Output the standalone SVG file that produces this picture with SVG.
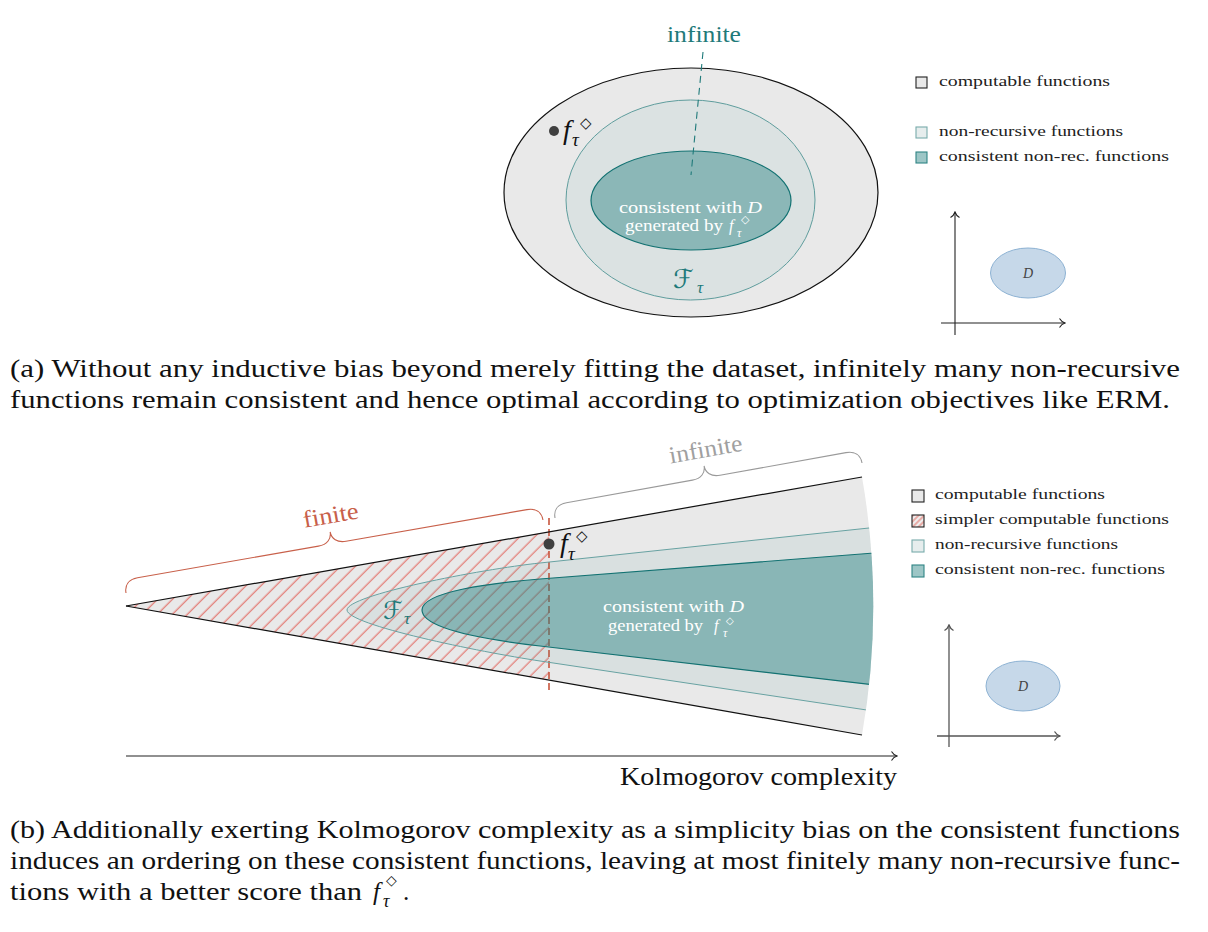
<svg xmlns="http://www.w3.org/2000/svg" width="1208" height="932" viewBox="0 0 1208 932">
<style>
.rm{font-family:'Liberation Serif','DejaVu Serif',serif;}
.it{font-family:'Liberation Serif','DejaVu Serif',serif;font-style:italic;}
.sym{font-family:'DejaVu Sans',sans-serif;}
.cal{font-family:'DejaVu Serif','DejaVu Sans',serif;font-style:italic;}
.cap{font-size:25px;fill:#111;}
.leg{font-size:15px;fill:#222;}
.wt{font-size:16px;fill:#ffffff;}
.ax{fill:none;stroke:#222;stroke-width:1.1;}
.ax2{fill:none;stroke:#555;stroke-width:1.3;}
.dset{fill:#c6d8e9;stroke:#8db2d3;stroke-width:1;}
.dlab{font-size:14px;fill:#444;}
.blk{fill:none;stroke:#111;stroke-width:1.2;}
.lt{fill:none;stroke:#68a2a2;stroke-width:1;}
.dk{fill:none;stroke:#137272;stroke-width:1.2;}
</style>
<defs>
<marker id="arrK" viewBox="-7 -6 8 12" markerWidth="8" markerHeight="12" refX="0" refY="0" orient="auto" markerUnits="userSpaceOnUse">
<path d="M-5.5,-4.5 C-4,-2 -1.5,-0.5 0,0 C-1.5,0.5 -4,2 -5.5,4.5" fill="none" stroke="#222" stroke-width="1.1"/>
</marker>
<marker id="arrG" viewBox="-7 -6 8 12" markerWidth="8" markerHeight="12" refX="0" refY="0" orient="auto" markerUnits="userSpaceOnUse">
<path d="M-5.5,-4.5 C-4,-2 -1.5,-0.5 0,0 C-1.5,0.5 -4,2 -5.5,4.5" fill="none" stroke="#555" stroke-width="1.3"/>
</marker>
<pattern id="hatch" patternUnits="userSpaceOnUse" width="20" height="10.6" patternTransform="rotate(-45)">
<line x1="-1" y1="5" x2="21" y2="5" stroke="#e0473c" stroke-width="0.85"/>
</pattern>
<pattern id="hatchS" patternUnits="userSpaceOnUse" width="10" height="4" patternTransform="rotate(-45)">
<line x1="-1" y1="2" x2="11" y2="2" stroke="#e0473c" stroke-width="0.8"/>
</pattern>
<clipPath id="wedgeClip"><path d="M126,606 L862,477 A747,747 0 0 1 862,735 Z"/></clipPath>
<clipPath id="hatchClip"><polygon points="126,606 549,531.85 549,680.15"/></clipPath>
</defs>

<g id="top-computable">
<ellipse cx="691" cy="192.5" rx="187" ry="124.5" fill="#e9e9e9" stroke="#111" stroke-width="1.2"/>
<circle cx="554" cy="131" r="5" fill="#404040"/>
<text class="it" x="563" y="139" font-size="28" fill="#111">f</text>
<text class="sym" x="580" y="128" font-size="15" fill="#111">◇</text>
<text class="it" x="572" y="146" font-size="19" fill="#111">τ</text>
</g>
<g id="top-nonrecursive">
<ellipse cx="690.5" cy="200" rx="124.5" ry="100" fill="#dbe2e2" stroke="#5f9d9d" stroke-width="1"/>
<text class="cal" x="673" y="288" font-size="26" fill="#1f7a7a">ℱ</text>
<text class="it" x="697" y="293" font-size="17" fill="#1f7a7a">τ</text>
</g>
<g id="top-consistent">
<ellipse cx="691" cy="200.5" rx="100" ry="49.5" fill="#8bb7b7" stroke="#137272" stroke-width="1.2"/>
<text class="rm wt" x="619" y="213" textLength="143" lengthAdjust="spacingAndGlyphs">consistent with <tspan font-style="italic">D</tspan></text>
<text class="rm wt" x="625" y="231" textLength="98" lengthAdjust="spacingAndGlyphs">generated by</text>
<text class="it wt" x="729" y="231">f</text>
<text class="sym" x="741" y="223" font-size="11" fill="#fff">◇</text>
<text class="it" x="737" y="237" font-size="12" fill="#fff">τ</text>
</g>
<g id="top-infinite-label">
<line x1="703" y1="52" x2="691" y2="175" stroke="#1f7a7a" stroke-width="1.1" stroke-dasharray="7 5"/>
<text class="rm" x="704" y="42" font-size="24" fill="#1f7a7a" text-anchor="middle" textLength="74" lengthAdjust="spacingAndGlyphs">infinite</text>
</g>

<g id="top-legend">
<rect x="916" y="77" width="11" height="11" fill="#e9e9e9" stroke="#222" stroke-width="1.1"/>
<text class="rm leg" x="939" y="86" textLength="171" lengthAdjust="spacingAndGlyphs">computable functions</text>
<rect x="916" y="127" width="11" height="11" fill="#e6eded" stroke="#78abab" stroke-width="1.1"/>
<text class="rm leg" x="939" y="136" textLength="184" lengthAdjust="spacingAndGlyphs">non-recursive functions</text>
<rect x="916" y="152" width="11" height="11" fill="#9dc6c6" stroke="#2f8585" stroke-width="1.1"/>
<text class="rm leg" x="939" y="161" textLength="230" lengthAdjust="spacingAndGlyphs">consistent non-rec. functions</text>
</g>

<g id="top-dataset">
<line class="ax" x1="955" y1="335" x2="955" y2="212" marker-end="url(#arrK)"/>
<line class="ax" x1="941" y1="323" x2="1065" y2="323" marker-end="url(#arrK)"/>
<ellipse class="dset" cx="1028" cy="273" rx="37.5" ry="25"/>
<text class="it dlab" x="1028" y="278" text-anchor="middle">D</text>
</g>

<g id="caption-a">
<text class="rm cap" x="10" y="377" textLength="1170" lengthAdjust="spacingAndGlyphs">(a) Without any inductive bias beyond merely fitting the dataset, infinitely many non-recursive</text>
<text class="rm cap" x="10" y="408" textLength="1160" lengthAdjust="spacingAndGlyphs">functions remain consistent and hence optimal according to optimization objectives like ERM.</text>
</g>

<g id="bottom-computable">
<path d="M126,606 L862,477 A747,747 0 0 1 862,735 Z" fill="#e9e9e9"/>
</g>
<g id="bottom-simpler">
<rect x="120" y="520" width="432" height="170" fill="url(#hatch)" clip-path="url(#hatchClip)"/>
<line x1="549" y1="518" x2="549" y2="691" stroke="#c8553d" stroke-width="1.6" stroke-dasharray="7 4"/>
</g>
<g id="bottom-nonrecursive" clip-path="url(#wedgeClip)">
<path d="M900,524.7 L540,563 C480,569.4 347,595 347,610 C347,625 480,652 540,661 L900,715 Z" fill="#2a7f7f" fill-opacity="0.08"/>
<path class="lt" d="M900,524.7 L540,563 C480,569.4 347,595 347,610 C347,625 480,652 540,661 L900,715"/>
</g>
<g id="bottom-consistent" clip-path="url(#wedgeClip)">
<path d="M900,551 L540,579 C490,583 422,592 422,610 C422,628 480,639 540,646 L900,688 Z" fill="#298282" fill-opacity="0.45"/>
<path class="dk" d="M900,551 L540,579 C490,583 422,592 422,610 C422,628 480,639 540,646 L900,688"/>
</g>
<g id="bottom-wedge-edges">
<line class="blk" x1="126" y1="606" x2="862" y2="477"/>
<line class="blk" x1="126" y1="606" x2="862" y2="735"/>
</g>
<g id="bottom-labels">
<text class="cal" x="383" y="619" font-size="25" fill="#1f7a7a">ℱ</text>
<text class="it" x="404" y="624" font-size="17" fill="#1f7a7a">τ</text>
<text class="rm wt" x="603" y="612" textLength="141" lengthAdjust="spacingAndGlyphs">consistent with <tspan font-style="italic">D</tspan></text>
<text class="rm wt" x="608" y="631" textLength="95" lengthAdjust="spacingAndGlyphs">generated by</text>
<text class="it wt" x="714" y="631">f</text>
<text class="sym" x="726" y="624" font-size="10" fill="#fff">◇</text>
<text class="it" x="723" y="637" font-size="12" fill="#fff">τ</text>
</g>
<g id="bottom-f-point">
<circle cx="549" cy="544" r="5.5" fill="#404040"/>
<text class="it" x="560" y="552" font-size="28" fill="#111">f</text>
<text class="sym" x="576" y="541" font-size="15" fill="#111">◇</text>
<text class="it" x="568" y="560" font-size="19" fill="#111">τ</text>
</g>
<g id="brace-finite">
<path transform="translate(126,593) rotate(-9.93)" d="M0,0 C0,-8 5,-13 14,-13 L197.65,-13 C206.65,-13 211.65,-18 211.65,-25 C211.65,-18 216.65,-13 225.65,-13 L409.3,-13 C418.3,-13 423.3,-8 423.3,0" fill="none" stroke="#c8604a" stroke-width="1.1"/>
<text class="rm" transform="translate(332,523) rotate(-10)" x="0" y="0" font-size="24" fill="#c8604a" text-anchor="middle" textLength="56" lengthAdjust="spacingAndGlyphs">finite</text>
</g>
<g id="brace-infinite">
<path transform="translate(555,518) rotate(-10.16)" d="M0,0 C0,-8 5,-13 14,-13 L141.95,-13 C150.95,-13 155.95,-18 155.95,-25 C155.95,-18 160.95,-13 169.95,-13 L297.9,-13 C306.9,-13 311.9,-8 311.9,0" fill="none" stroke="#9a9a9a" stroke-width="1.1"/>
<text class="rm" transform="translate(707,457) rotate(-10)" x="0" y="0" font-size="24" fill="#a0a0a0" text-anchor="middle" textLength="74" lengthAdjust="spacingAndGlyphs">infinite</text>
</g>
<g id="connectors">
<line x1="126" y1="756" x2="897" y2="756" stroke="#222" stroke-width="1.2" marker-end="url(#arrK)"/>
</g>
<g id="axis-label">
<text class="rm" x="620" y="785" font-size="25" fill="#111" textLength="277" lengthAdjust="spacingAndGlyphs">Kolmogorov complexity</text>
</g>

<g id="bottom-legend">
<rect x="912" y="490" width="12" height="12" fill="#e9e9e9" stroke="#222" stroke-width="1.1"/>
<text class="rm leg" x="935" y="499" textLength="170" lengthAdjust="spacingAndGlyphs">computable functions</text>
<rect x="912" y="515" width="12" height="12" fill="#eeeeee"/>
<rect x="912" y="515" width="12" height="12" fill="url(#hatchS)" stroke="#222" stroke-width="1.1"/>
<text class="rm leg" x="935" y="524" textLength="234" lengthAdjust="spacingAndGlyphs">simpler computable functions</text>
<rect x="912" y="540" width="12" height="12" fill="#e6eded" stroke="#78abab" stroke-width="1.1"/>
<text class="rm leg" x="935" y="549" textLength="183" lengthAdjust="spacingAndGlyphs">non-recursive functions</text>
<rect x="912" y="565" width="12" height="12" fill="#9dc6c6" stroke="#2f8585" stroke-width="1.1"/>
<text class="rm leg" x="935" y="574" textLength="230" lengthAdjust="spacingAndGlyphs">consistent non-rec. functions</text>
</g>

<g id="bottom-dataset">
<line class="ax2" x1="949" y1="747" x2="949" y2="625" marker-end="url(#arrG)"/>
<line class="ax2" x1="937" y1="736" x2="1060" y2="736" marker-end="url(#arrG)"/>
<ellipse class="dset" cx="1023" cy="686" rx="37" ry="25"/>
<text class="it dlab" x="1023" y="691" text-anchor="middle">D</text>
</g>

<g id="caption-b">
<text class="rm cap" x="10" y="838" textLength="1170" lengthAdjust="spacingAndGlyphs">(b) Additionally exerting Kolmogorov complexity as a simplicity bias on the consistent functions</text>
<text class="rm cap" x="10" y="869" textLength="1170" lengthAdjust="spacingAndGlyphs">induces an ordering on these consistent functions, leaving at most finitely many non-recursive func-</text>
<text class="rm cap" x="10" y="900" textLength="352" lengthAdjust="spacingAndGlyphs">tions with a better score than</text>
<text class="it cap" x="373" y="900">f</text>
<text class="sym" x="386" y="885" font-size="14" fill="#111">◇</text>
<text class="it" x="383" y="907" font-size="18" fill="#111">τ</text>
<text class="rm cap" x="403" y="900">.</text>
</g>
</svg>
